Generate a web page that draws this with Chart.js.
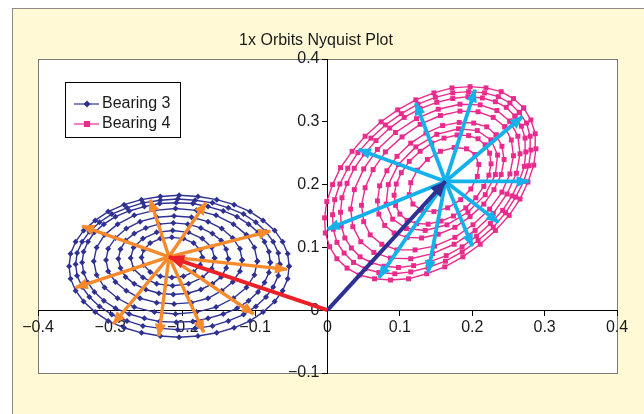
<!DOCTYPE html>
<html lang="en">
<head>
<meta charset="UTF-8">
<title>1x Orbits Nyquist Plot</title>
<script src="https://cdn.jsdelivr.net/npm/chart.js@4.4.1/dist/chart.umd.min.js"></script>
<style>
  body { margin: 0; background: #fff; }
  .moldura { position: absolute; left: 12px; top: 8px; width: 700px; height: 420px; background: #fffad5; border: 1px solid #8a8a8a; }
  #wrap { position: absolute; left: 0; top: 0; }
</style>
</head>
<body>
<div class="moldura"></div>
<div id="wrap"><canvas id="grafico" width="644" height="414"></canvas></div>
<script>
// ---- data ----
const chartTitle = '1x Orbits Nyquist Plot';
const seriesNames = ['Bearing 3', 'Bearing 4'];
const xTicks = [-0.4, -0.3, -0.2, -0.1, 0, 0.1, 0.2, 0.3, 0.4];
const yTicks = [-0.1, 0, 0.1, 0.2, 0.3, 0.4];

// Bearing 3 orbit rings (x, y)
const b3Ring1 = [[-0.053,0.070],[-0.055,0.090],[-0.062,0.109],[-0.073,0.127],[-0.089,0.143],[-0.107,0.157],[-0.129,0.168],[-0.153,0.176],[-0.179,0.181],[-0.205,0.183],[-0.231,0.181],[-0.257,0.176],[-0.281,0.168],[-0.303,0.157],[-0.321,0.143],[-0.337,0.127],[-0.348,0.109],[-0.355,0.090],[-0.357,0.070],[-0.355,0.050],[-0.348,0.031],[-0.337,0.014],[-0.321,-0.003],[-0.303,-0.017],[-0.281,-0.028],[-0.257,-0.036],[-0.231,-0.041],[-0.205,-0.043],[-0.179,-0.041],[-0.153,-0.036],[-0.129,-0.028],[-0.107,-0.017],[-0.089,-0.003],[-0.073,0.014],[-0.062,0.031],[-0.055,0.050]];
const b3Ring2 = [[-0.066,0.073],[-0.068,0.091],[-0.075,0.109],[-0.085,0.125],[-0.099,0.140],[-0.116,0.153],[-0.137,0.163],[-0.159,0.171],[-0.183,0.175],[-0.207,0.177],[-0.231,0.175],[-0.255,0.171],[-0.277,0.163],[-0.298,0.153],[-0.315,0.140],[-0.329,0.125],[-0.339,0.109],[-0.346,0.091],[-0.348,0.073],[-0.346,0.055],[-0.339,0.037],[-0.329,0.021],[-0.315,0.006],[-0.298,-0.007],[-0.277,-0.017],[-0.255,-0.025],[-0.231,-0.029],[-0.207,-0.031],[-0.183,-0.029],[-0.159,-0.025],[-0.137,-0.017],[-0.116,-0.007],[-0.099,0.006],[-0.085,0.021],[-0.075,0.037],[-0.068,0.055]];
const b3Ring3 = [[-0.079,0.076],[-0.081,0.093],[-0.087,0.109],[-0.096,0.124],[-0.109,0.137],[-0.125,0.149],[-0.144,0.158],[-0.165,0.165],[-0.186,0.170],[-0.209,0.171],[-0.232,0.170],[-0.253,0.165],[-0.274,0.158],[-0.293,0.149],[-0.309,0.137],[-0.322,0.124],[-0.331,0.109],[-0.337,0.093],[-0.339,0.076],[-0.337,0.060],[-0.331,0.044],[-0.322,0.029],[-0.309,0.015],[-0.293,0.003],[-0.274,-0.006],[-0.253,-0.013],[-0.232,-0.018],[-0.209,-0.019],[-0.186,-0.018],[-0.165,-0.013],[-0.144,-0.006],[-0.125,0.003],[-0.109,0.015],[-0.096,0.029],[-0.087,0.044],[-0.081,0.060]];
const b3Ring4 = [[-0.097,0.078],[-0.101,0.100],[-0.112,0.120],[-0.130,0.137],[-0.154,0.151],[-0.181,0.159],[-0.210,0.162],[-0.239,0.159],[-0.267,0.151],[-0.290,0.137],[-0.308,0.120],[-0.319,0.100],[-0.323,0.078],[-0.319,0.056],[-0.308,0.036],[-0.290,0.019],[-0.267,0.005],[-0.239,-0.003],[-0.210,-0.006],[-0.181,-0.003],[-0.154,0.005],[-0.130,0.019],[-0.112,0.036],[-0.101,0.056]];
const b3Ring5 = [[-0.118,0.080],[-0.121,0.098],[-0.131,0.115],[-0.146,0.130],[-0.165,0.141],[-0.188,0.148],[-0.212,0.150],[-0.236,0.148],[-0.259,0.141],[-0.278,0.130],[-0.293,0.115],[-0.303,0.098],[-0.306,0.080],[-0.303,0.062],[-0.293,0.045],[-0.278,0.031],[-0.259,0.019],[-0.236,0.012],[-0.212,0.010],[-0.188,0.012],[-0.165,0.019],[-0.146,0.031],[-0.131,0.045],[-0.121,0.062]];
const b3Ring6 = [[-0.137,0.082],[-0.140,0.097],[-0.147,0.111],[-0.159,0.122],[-0.175,0.131],[-0.193,0.137],[-0.213,0.139],[-0.233,0.137],[-0.251,0.131],[-0.267,0.122],[-0.279,0.111],[-0.286,0.097],[-0.289,0.082],[-0.286,0.067],[-0.279,0.053],[-0.267,0.042],[-0.251,0.033],[-0.233,0.027],[-0.213,0.025],[-0.193,0.027],[-0.175,0.033],[-0.159,0.042],[-0.147,0.053],[-0.140,0.067]];
const b3Ring7 = [[-0.156,0.083],[-0.160,0.100],[-0.173,0.114],[-0.192,0.124],[-0.214,0.127],[-0.236,0.124],[-0.255,0.114],[-0.268,0.100],[-0.272,0.083],[-0.268,0.066],[-0.255,0.052],[-0.236,0.042],[-0.214,0.039],[-0.192,0.042],[-0.173,0.052],[-0.160,0.066]];
const b3Ring8 = [[-0.173,0.084],[-0.176,0.096],[-0.185,0.107],[-0.199,0.114],[-0.215,0.116],[-0.231,0.114],[-0.245,0.107],[-0.254,0.096],[-0.257,0.084],[-0.254,0.072],[-0.245,0.061],[-0.231,0.054],[-0.215,0.052],[-0.199,0.054],[-0.185,0.061],[-0.176,0.072]];

// Bearing 4 orbit rings (x, y)
const b4Ring1 = [[0.271,0.322],[0.257,0.337],[0.240,0.348],[0.219,0.354],[0.197,0.356],[0.172,0.354],[0.147,0.346],[0.122,0.335],[0.097,0.319],[0.074,0.300],[0.052,0.277],[0.034,0.253],[0.018,0.227],[0.007,0.200],[-0.001,0.173],[-0.004,0.147],[-0.003,0.123],[0.003,0.101],[0.013,0.082],[0.027,0.067],[0.044,0.056],[0.065,0.050],[0.087,0.048],[0.112,0.050],[0.137,0.058],[0.162,0.069],[0.187,0.085],[0.211,0.105],[0.232,0.127],[0.251,0.151],[0.266,0.177],[0.277,0.204],[0.285,0.231],[0.288,0.257],[0.287,0.281],[0.281,0.303]];
const b4Ring2 = [[0.265,0.315],[0.252,0.330],[0.236,0.340],[0.217,0.346],[0.195,0.348],[0.173,0.346],[0.149,0.339],[0.125,0.328],[0.102,0.313],[0.080,0.295],[0.060,0.274],[0.042,0.251],[0.028,0.226],[0.017,0.201],[0.010,0.176],[0.007,0.152],[0.008,0.129],[0.013,0.108],[0.023,0.091],[0.036,0.076],[0.052,0.066],[0.071,0.060],[0.093,0.058],[0.115,0.061],[0.139,0.068],[0.163,0.078],[0.186,0.093],[0.208,0.111],[0.229,0.132],[0.246,0.155],[0.260,0.180],[0.271,0.205],[0.278,0.230],[0.281,0.255],[0.280,0.277],[0.275,0.298]];
const b4Ring3 = [[0.259,0.309],[0.247,0.323],[0.232,0.332],[0.214,0.338],[0.194,0.340],[0.173,0.337],[0.151,0.331],[0.128,0.321],[0.106,0.307],[0.086,0.290],[0.067,0.270],[0.051,0.249],[0.037,0.226],[0.027,0.202],[0.020,0.179],[0.018,0.156],[0.019,0.134],[0.024,0.115],[0.033,0.099],[0.045,0.085],[0.060,0.076],[0.078,0.070],[0.098,0.068],[0.119,0.071],[0.141,0.077],[0.164,0.087],[0.186,0.101],[0.206,0.118],[0.225,0.138],[0.242,0.159],[0.255,0.182],[0.265,0.206],[0.272,0.229],[0.274,0.252],[0.273,0.274],[0.268,0.293]];
const b4Ring4 = [[0.252,0.301],[0.234,0.318],[0.211,0.327],[0.183,0.328],[0.153,0.320],[0.123,0.305],[0.094,0.283],[0.069,0.256],[0.050,0.225],[0.037,0.192],[0.032,0.161],[0.035,0.133],[0.046,0.109],[0.064,0.092],[0.087,0.083],[0.115,0.082],[0.145,0.090],[0.175,0.105],[0.204,0.127],[0.229,0.154],[0.248,0.185],[0.261,0.218],[0.266,0.249],[0.263,0.277]];
const b4Ring5 = [[0.245,0.292],[0.229,0.307],[0.208,0.316],[0.183,0.317],[0.156,0.310],[0.128,0.296],[0.103,0.276],[0.080,0.252],[0.063,0.224],[0.052,0.195],[0.047,0.167],[0.050,0.141],[0.059,0.120],[0.075,0.105],[0.096,0.096],[0.121,0.096],[0.148,0.102],[0.176,0.116],[0.201,0.136],[0.224,0.161],[0.241,0.188],[0.252,0.217],[0.257,0.246],[0.254,0.271]];
const b4Ring6 = [[0.233,0.279],[0.220,0.292],[0.202,0.298],[0.182,0.299],[0.159,0.294],[0.136,0.282],[0.115,0.266],[0.096,0.245],[0.082,0.222],[0.072,0.198],[0.069,0.174],[0.071,0.153],[0.079,0.135],[0.092,0.123],[0.110,0.116],[0.130,0.115],[0.153,0.121],[0.176,0.132],[0.197,0.149],[0.216,0.169],[0.230,0.192],[0.240,0.216],[0.244,0.240],[0.241,0.261]];
const b4Ring7 = [[0.226,0.271],[0.207,0.286],[0.181,0.289],[0.151,0.280],[0.122,0.260],[0.098,0.232],[0.084,0.200],[0.081,0.169],[0.090,0.145],[0.109,0.130],[0.135,0.127],[0.165,0.136],[0.194,0.156],[0.218,0.184],[0.232,0.216],[0.235,0.247]];
const b4Ring8 = [[0.218,0.263],[0.208,0.273],[0.195,0.278],[0.179,0.279],[0.161,0.274],[0.144,0.266],[0.128,0.253],[0.113,0.237],[0.102,0.219],[0.095,0.201],[0.092,0.183],[0.094,0.167],[0.100,0.153],[0.110,0.143],[0.123,0.138],[0.139,0.137],[0.157,0.142],[0.174,0.150],[0.191,0.163],[0.205,0.179],[0.216,0.197],[0.223,0.215],[0.226,0.233],[0.224,0.250]];
const b4Ring9 = [[0.204,0.248],[0.192,0.257],[0.175,0.259],[0.156,0.253],[0.138,0.240],[0.124,0.223],[0.115,0.203],[0.113,0.184],[0.118,0.169],[0.130,0.159],[0.147,0.157],[0.166,0.163],[0.184,0.176],[0.198,0.193],[0.207,0.213],[0.209,0.232]];

// 1x vectors: hub points and the arrow tips around them
const origem = [0, 0];
const b3Hub = [-0.219, 0.085];
const b4Hub = [0.163, 0.205];
const b3Tips = [[-0.339,0.134],[-0.245,0.176],[-0.168,0.171],[-0.079,0.126],[-0.056,0.065],[-0.102,-0.006],[-0.171,-0.035],[-0.233,-0.041],[-0.296,-0.022],[-0.348,0.036]];
const b4Tips = [[0.204,0.351],[0.269,0.308],[0.278,0.205],[0.236,0.140],[0.200,0.102],[0.139,0.060],[0.071,0.052],[0.000,0.129],[0.043,0.256],[0.122,0.330]];

// ---- cores ----
const azul = '#2e3192';
const rosa = '#ea2a8c';
const laranja = '#f68a2c';
const ciano = '#14b1eb';
const vermelho = '#ec2027';
const fonte = '"Liberation Sans", Arial, sans-serif';

function pt(p) { return { x: p[0], y: p[1] }; }
function fechado(ring) { return ring.concat([ring[0]]).map(pt); }

function fmt(v) {
    const r = Math.round(v * 10) / 10;
    if (r === 0) return '0';
    return (r < 0 ? '\u2212' : '') + Math.abs(r).toFixed(1);
}

const datasets = [];
[b3Ring1, b3Ring2, b3Ring3, b3Ring4, b3Ring5, b3Ring6, b3Ring7, b3Ring8].forEach(function (ring, i) {
    datasets.push({
        label: i === 0 ? seriesNames[0] : '',
        data: fechado(ring),
        showLine: true,
        borderColor: azul,
        borderWidth: 1.4,
        pointStyle: 'rectRot',
        pointRadius: 3,
        pointBackgroundColor: azul,
        pointBorderWidth: 0,
        order: 10
    });
});
[b4Ring1, b4Ring2, b4Ring3, b4Ring4, b4Ring5, b4Ring6, b4Ring7, b4Ring8, b4Ring9].forEach(function (ring, i) {
    datasets.push({
        label: i === 0 ? seriesNames[1] : '',
        data: fechado(ring),
        showLine: true,
        borderColor: rosa,
        borderWidth: 1.4,
        pointStyle: 'rect',
        pointRadius: 3.5,
        pointBackgroundColor: rosa,
        pointBorderWidth: 0,
        order: 9
    });
});

function seta(de, para, cor, largura, ordem, cabeca) {
    return {
        label: '',
        data: [pt(de), pt(para)],
        showLine: true,
        borderColor: cor,
        borderWidth: largura,
        pointRadius: 0,
        seta: cabeca,
        order: ordem
    };
}
b3Tips.forEach(function (t) { datasets.push(seta(b3Hub, t, laranja, 3.4, 4, [12, 5.5])); });
b4Tips.forEach(function (t) { datasets.push(seta(b4Hub, t, ciano, 3.8, 4, [12, 5.5])); });
datasets.push(seta(origem, b3Hub, vermelho, 4, 2, [15, 7]));
datasets.push(seta(origem, b4Hub, azul, 4, 2, [15, 7]));

// ---- plugins ----
const pontas = {
    id: 'pontas',
    afterDatasetDraw(chart, args) {
        const ds = chart.data.datasets[args.index];
        if (!ds.seta) return;
        const pts = args.meta.data;
        const a = pts[pts.length - 2], b = pts[pts.length - 1];
        const ang = Math.atan2(b.y - a.y, b.x - a.x);
        const ctx = chart.ctx;
        ctx.save();
        ctx.translate(b.x, b.y);
        ctx.rotate(ang);
        ctx.fillStyle = ds.borderColor;
        ctx.beginPath();
        ctx.moveTo(1, 0);
        ctx.lineTo(-ds.seta[0], ds.seta[1]);
        ctx.lineTo(-ds.seta[0], -ds.seta[1]);
        ctx.closePath();
        ctx.fill();
        ctx.restore();
    }
};

const fundo = {
    id: 'fundo',
    beforeDraw(chart) {
        const a = chart.chartArea, ctx = chart.ctx;
        ctx.save();
        ctx.fillStyle = '#fff';
        ctx.fillRect(a.left, a.top, a.right - a.left, a.bottom - a.top);
        ctx.strokeStyle = '#7a7a7a';
        ctx.lineWidth = 1;
        ctx.strokeRect(Math.round(a.left) + 0.5, Math.round(a.top) + 0.5, Math.round(a.right - a.left), Math.round(a.bottom - a.top));
        ctx.restore();
    },
    afterDraw(chart) {
        const ctx = chart.ctx;
        ctx.save();
        // titulo
        ctx.fillStyle = '#1a1a1a';
        ctx.font = '16px ' + fonte;
        ctx.textAlign = 'center';
        ctx.textBaseline = 'middle';
        ctx.fillText(chartTitle, 316, 41);
        // legenda
        ctx.fillStyle = '#fff';
        ctx.fillRect(65.5, 82.5, 115, 55);
        ctx.strokeStyle = '#000';
        ctx.lineWidth = 1;
        ctx.strokeRect(65.5, 82.5, 115, 55);
        const cores = [azul, rosa];
        seriesNames.forEach(function (nome, i) {
            const y = 104 + i * 20;
            ctx.strokeStyle = cores[i];
            ctx.lineWidth = 1.2;
            ctx.beginPath();
            ctx.moveTo(74, y);
            ctx.lineTo(99, y);
            ctx.stroke();
            ctx.fillStyle = cores[i];
            ctx.beginPath();
            if (i === 0) {
                ctx.moveTo(87, y - 3.5); ctx.lineTo(90.5, y); ctx.lineTo(87, y + 3.5); ctx.lineTo(83.5, y);
            } else {
                ctx.rect(84, y - 3, 6, 6);
            }
            ctx.closePath();
            ctx.fill();
            ctx.fillStyle = '#1a1a1a';
            ctx.font = '16px ' + fonte;
            ctx.textAlign = 'left';
            ctx.fillText(nome, 102, y);
        });
        ctx.restore();
    }
};

function eixo(ticks, min, max, pos) {
    return {
        type: 'linear',
        min: min,
        max: max,
        position: pos,
        afterBuildTicks(scale) { scale.ticks = ticks.map(function (v) { return { value: v }; }); },
        ticks: {
            callback: fmt,
            color: '#1a1a1a',
            padding: 3,
            autoSkip: false,
            maxRotation: 0,
            font: { family: fonte, size: 16 }
        },
        grid: { drawOnChartArea: false, drawTicks: true, tickLength: 5, color: '#000' },
        border: { display: true, color: '#000', width: 1 }
    };
}

new Chart(document.getElementById('grafico'), {
    type: 'scatter',
    data: { datasets: datasets },
    options: {
        responsive: false,
        animation: false,
        events: [],
        layout: { padding: { left: 38, top: 59, right: 27, bottom: 41 } },
        plugins: { legend: { display: false }, tooltip: { enabled: false }, title: { display: false } },
        scales: {
            x: eixo(xTicks, -0.4, 0.4, { y: 0 }),
            y: eixo(yTicks, -0.1, 0.4, 'center')
        }
    },
    plugins: [fundo, pontas]
});
</script>
</body>
</html>
